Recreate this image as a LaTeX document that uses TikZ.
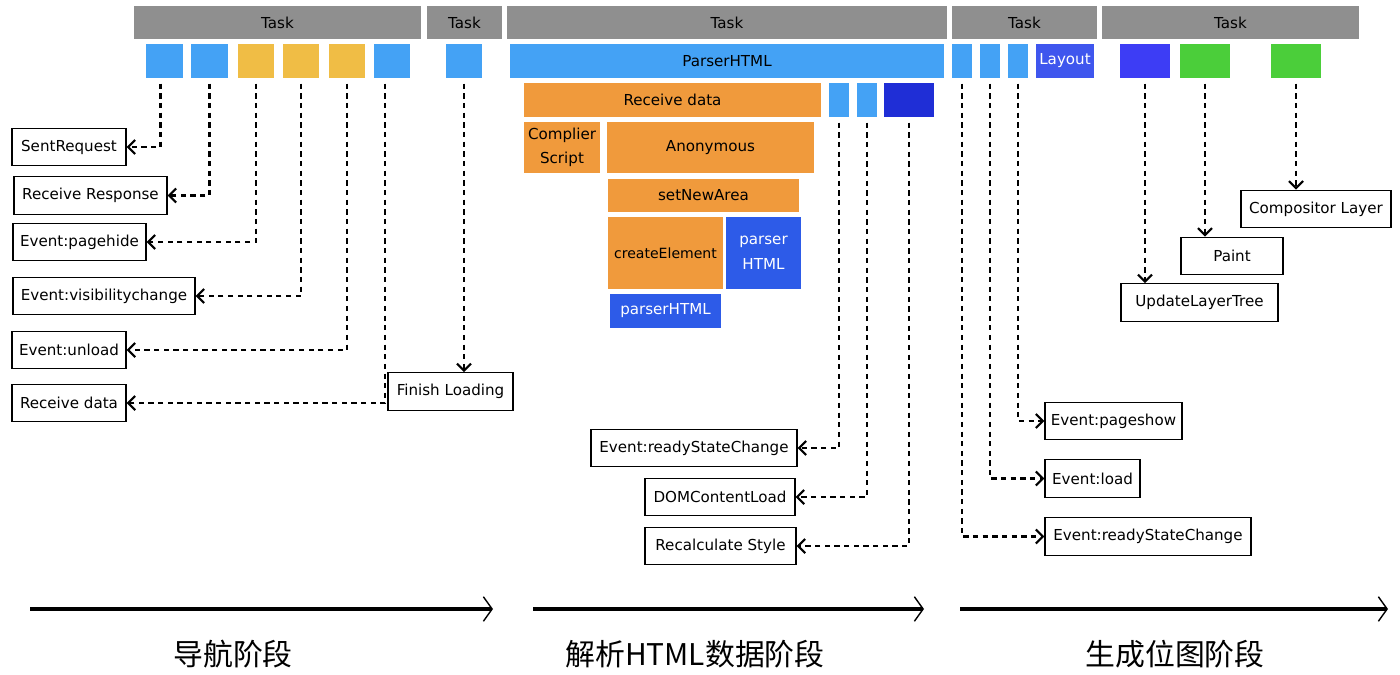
\documentclass[tikz,border=0pt]{standalone}
\usepackage{fontspec}
\usepackage{xcolor}
\setmainfont{DejaVu Sans}
\newfontfamily\cjk{Noto Sans CJK SC}
\usetikzlibrary{arrows.meta}

\definecolor{taskgray}{HTML}{8F8F8F}
\definecolor{lblue}{HTML}{44A2F5}
\definecolor{ylw}{HTML}{F0BD45}
\definecolor{orng}{HTML}{F09A3C}
\definecolor{dblue}{HTML}{1F2ED6}
\definecolor{pblue}{HTML}{2D5BE8}
\definecolor{layblue}{HTML}{3F56EE}
\definecolor{vblue}{HTML}{3D3DF5}
\definecolor{grn}{HTML}{4BCE3A}

\tikzset{
  task/.style={fill=taskgray, inner sep=0, minimum height=0.66cm},
  blk/.style={inner sep=0, minimum height=0.68cm},
  evbox/.style={draw, line width=0.8pt, fill=white, inner sep=0, minimum height=0.75cm},
  arr/.style={line width=1.2pt, dash pattern=on 3pt off 2.5pt, shorten <=3pt,
    -{Straight Barb[length=4pt,width=8pt]}},
  phase/.style={line width=2.2pt, -{Straight Barb[length=5pt,width=14pt,line width=0.8pt]}}
}

\begin{document}
\begin{tikzpicture}[x=0.02cm, y=-0.02cm, font=\fontsize{8.6}{10}\selectfont]
  \useasboundingbox (0,0) rectangle (1400,674);

  % task bars
  \node[task, minimum width=5.74cm] (t1) at (277.5,22.5) {Task};
  \node[task, minimum width=1.5cm] (t2) at (464.5,22.5) {Task};
  \node[task, minimum width=8.8cm] (t3) at (727,22.5) {Task};
  \node[task, minimum width=2.9cm] (t4) at (1024.5,22.5) {Task};
  \node[task, minimum width=5.14cm] (t5) at (1230.5,22.5) {Task};

  % navigation blocks
  \node[blk, fill=lblue, minimum width=0.74cm] (n1) at (164.5,61) {};
  \node[blk, fill=lblue, minimum width=0.74cm] (n2) at (209.5,61) {};
  \node[blk, fill=ylw, minimum width=0.72cm] (n3) at (256,61) {};
  \node[blk, fill=ylw, minimum width=0.72cm] (n4) at (301,61) {};
  \node[blk, fill=ylw, minimum width=0.72cm] (n5) at (347,61) {};
  \node[blk, fill=lblue, minimum width=0.72cm] (n6) at (392,61) {};
  \node[blk, fill=lblue, minimum width=0.72cm] (n7) at (464,61) {};

  % parsing blocks
  \node[blk, fill=lblue, minimum width=8.68cm] (parser) at (727,61) {ParserHTML};
  \node[blk, fill=orng, minimum width=5.94cm] (recv) at (672.5,100) {Receive data};
  \node[blk, fill=lblue, minimum width=0.4cm] (m1) at (839,100) {};
  \node[blk, fill=lblue, minimum width=0.4cm] (m2) at (867,100) {};
  \node[blk, fill=dblue, minimum width=1cm] (m3) at (909,100) {};
  \node[blk, fill=orng, minimum width=1.52cm, minimum height=1.02cm, align=center,
    font=\fontsize{8.6}{13.6}\selectfont] (comp) at (562,147.5) {Complier\\Script};
  \node[blk, fill=orng, minimum width=4.14cm, minimum height=1.02cm] (anon) at (710.5,147.5) {Anonymous};
  \node[blk, fill=orng, minimum width=3.82cm, minimum height=0.66cm] (setn) at (703.5,195.5) {setNewArea};
  \node[blk, fill=orng, minimum width=2.3cm, minimum height=1.44cm,
    font=\fontsize{8}{10}\selectfont] (crel) at (665.5,253) {createElement};
  \node[blk, fill=pblue, text=white, minimum width=1.5cm, minimum height=1.44cm, align=center,
    font=\fontsize{8.6}{14}\selectfont] (phtml) at (763.5,253) {parser\\HTML};
  \node[blk, fill=pblue, text=white, minimum width=2.22cm] (phtml2) at (665.5,311) {parserHTML};

  % bitmap blocks
  \node[blk, fill=lblue, minimum width=0.4cm] (r1) at (962,61) {};
  \node[blk, fill=lblue, minimum width=0.4cm] (r2) at (990,61) {};
  \node[blk, fill=lblue, minimum width=0.4cm] (r3) at (1018,61) {};
  \node[blk, fill=layblue, text=white, minimum width=1.16cm] (layout) at (1065,61) {Layout};
  \node[blk, fill=vblue, minimum width=1cm] (s1) at (1145,61) {};
  \node[blk, fill=grn, minimum width=1cm] (s2) at (1205,61) {};
  \node[blk, fill=grn, minimum width=1cm] (s3) at (1296,61) {};

  % events
  \node[evbox, minimum width=2.28cm] (sent) at (69,147) {SentRequest};
  \node[evbox, minimum width=3.06cm] (rresp) at (90.5,195.5) {Receive Response};
  \node[evbox, minimum width=2.66cm] (phide) at (79.5,242) {Event:pagehide};
  \node[evbox, minimum width=3.64cm] (vis) at (104,296) {Event:visibilitychange};
  \node[evbox, minimum width=2.28cm] (unload) at (69,350) {Event:unload};
  \node[evbox, minimum width=2.28cm] (rdata) at (69,403) {Receive data};
  \node[evbox, minimum width=2.5cm] (finish) at (450.5,391.5) {Finish Loading};
  \node[evbox, minimum width=4.12cm] (rsc1) at (694,448) {Event:readyStateChange};
  \node[evbox, minimum width=3cm] (dom) at (720,497) {DOMContentLoad};
  \node[evbox, minimum width=3.02cm] (recalc) at (720.5,546) {Recalculate Style};
  \node[evbox, minimum width=2.74cm] (pshow) at (1113.5,421) {Event:pageshow};
  \node[evbox, minimum width=1.9cm] (load) at (1092.5,478.5) {Event:load};
  \node[evbox, minimum width=4.12cm] (rsc2) at (1148,536.5) {Event:readyStateChange};
  \node[evbox, minimum width=3cm] (clayer) at (1316,209) {Compositor Layer};
  \node[evbox, minimum width=2.04cm] (paint) at (1232,256) {Paint};
  \node[evbox, minimum width=3.14cm] (ult) at (1199.5,302.5) {UpdateLayerTree};

  % connectors
  \draw[arr] ([xshift=-0.08cm]n1.south) |- (sent.east);
  \draw[arr] (n2.south) |- (rresp.east);
  \draw[arr] (n3.south) |- (phide.east);
  \draw[arr] (n4.south) |- (vis.east);
  \draw[arr] (n5.south) |- (unload.east);
  \draw[arr] ([xshift=-0.14cm]n6.south) |- (rdata.east);
  \draw[arr] (n7.south) -- (n7.south |- finish.north);
  \draw[arr] (m1.south) |- (rsc1.east);
  \draw[arr] (m2.south) |- (dom.east);
  \draw[arr] (m3.south) |- (recalc.east);
  \draw[arr] (r3.south) |- (pshow.west);
  \draw[arr] (r2.south) |- (load.west);
  \draw[arr] (r1.south) |- (rsc2.west);
  \draw[arr] (s1.south) -- (s1.south |- ult.north);
  \draw[arr] (s2.south) -- (s2.south |- paint.north);
  \draw[arr] (s3.south) -- (s3.south |- clayer.north);

  % phases
  \coordinate (p1s) at (30,609);
  \coordinate (p1e) at (493,609);
  \coordinate (p2s) at (533,609);
  \coordinate (p2e) at (924,609);
  \coordinate (p3s) at (960,609);
  \coordinate (p3e) at (1388,609);
  \draw[phase] (p1s) -- (p1e);
  \draw[phase] (p2s) -- (p2e);
  \draw[phase] (p3s) -- (p3e);
  \node[font=\cjk\fontsize{17}{20}\selectfont] (nav) at (233,654) {导航阶段};
  \node[font=\cjk\fontsize{17}{20}\selectfont] (parse) at (695,654) {解析HTML数据阶段};
  \node[font=\cjk\fontsize{17}{20}\selectfont] (paintph) at (1175,654) {生成位图阶段};
\end{tikzpicture}
\end{document}
